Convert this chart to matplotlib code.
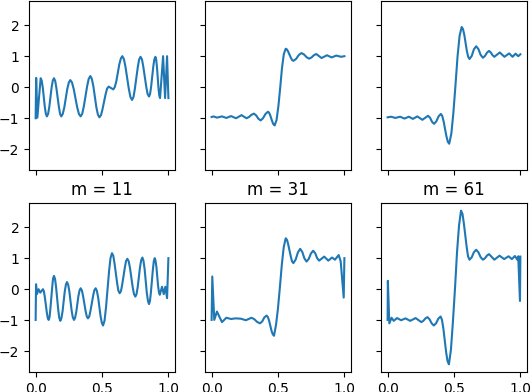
import matplotlib
matplotlib.use("Agg")
import matplotlib.pyplot as plt

titles = ["m = 11", "m = 31", "m = 61"]

# Top row
x_a = [0.0, 0.004, 0.013, 0.025, 0.038,
       0.046, 0.054, 0.0615, 0.069, 0.077, 0.085,
       0.094, 0.103, 0.1115, 0.120, 0.129, 0.138,
       0.147, 0.156, 0.1655, 0.175, 0.184, 0.193,
       0.204, 0.216, 0.227, 0.238, 0.250, 0.261,
       0.274, 0.287, 0.300, 0.313, 0.326, 0.339,
       0.351, 0.363, 0.3755, 0.388, 0.400, 0.412,
       0.423, 0.435, 0.446, 0.457, 0.469, 0.48,
       0.492, 0.503, 0.515, 0.527, 0.538, 0.55,
       0.5675, 0.585,
       0.596, 0.608, 0.619, 0.630, 0.642, 0.653,
       0.665, 0.677, 0.6895, 0.702, 0.714, 0.726,
       0.737, 0.747, 0.758, 0.769, 0.779, 0.79,
       0.801, 0.811, 0.822, 0.833, 0.843, 0.854,
       0.862, 0.870, 0.878, 0.886, 0.894, 0.902,
       0.908, 0.914, 0.9195, 0.925, 0.931, 0.937,
       0.96, 0.975, 0.99, 1.0]
y_a = [-1.0, 0.3, -0.98, -0.35, 0.29,
       0.208, -0.018, -0.325, -0.633, -0.858, -0.94,
       -0.858, -0.633, -0.325, -0.018, 0.208, 0.29,
       0.208, -0.018, -0.325, -0.633, -0.858, -0.94,
       -0.862, -0.648, -0.355, -0.063, 0.152, 0.23,
       0.152, -0.063, -0.355, -0.648, -0.862, -0.94,
       -0.853, -0.615, -0.29, 0.035, 0.273, 0.36,
       0.271, 0.0275, -0.305, -0.6375, -0.881, -0.97,
       -0.904, -0.7225, -0.475, -0.2275, -0.046, 0.02,
       -0.025, -0.07,
       0.002, 0.1975, 0.465, 0.7325, 0.928, 1.0,
       0.906, 0.6475, 0.295, -0.0575, -0.316, -0.41,
       -0.317, -0.0625, 0.285, 0.6325, 0.887, 0.98,
       0.894, 0.66, 0.34, 0.02, -0.214, -0.3,
       -0.214, 0.02, 0.34, 0.66, 0.894, 0.98,
       0.891, 0.6475, 0.315, -0.0175, -0.261, -0.35,
       1.0, -0.35, 1.0, -0.35]

x_b = [0.0, 0.015, 0.04, 0.078, 0.111, 0.146, 0.184, 0.225, 0.263, 0.281, 0.3, 0.318, 0.335, 0.352,
       0.369, 0.387, 0.406, 0.424, 0.4325, 0.441, 0.4495, 0.458, 0.4665, 0.475,
       0.489, 0.503, 0.517, 0.53, 0.544, 0.558,
       0.568, 0.577, 0.587, 0.597, 0.606, 0.616, 0.636, 0.657, 0.677, 0.696, 0.716, 0.735,
       0.753, 0.77, 0.788, 0.828, 0.869, 0.904, 0.939, 0.975, 1.0]
y_b = [-0.96, -0.94, -0.98, -0.94, -0.99, -0.93, -1.0, -0.9, -1.0, -0.96, -0.89, -0.85, -0.905, -1.015,
       -1.07, -1.0, -0.86, -0.79, -0.819, -0.9, -1.01, -1.12, -1.2, -1.23,
       -1.06, -0.61, 0.0, 0.62, 1.07, 1.24,
       1.214, 1.1425, 1.045, 0.9475, 0.876, 0.85, 0.91, 1.04, 1.1, 1.055, 0.965, 0.92,
       0.96, 1.03, 1.07, 0.94, 1.03, 0.96, 1.02, 0.98, 1.0]

x_c = [0.0, 0.026, 0.059, 0.094, 0.127, 0.16, 0.191, 0.224, 0.262, 0.305, 0.32, 0.335, 0.35,
       0.367, 0.384, 0.401, 0.4115, 0.422, 0.4325, 0.443, 0.4535, 0.464,
       0.48, 0.495, 0.511, 0.527, 0.542, 0.558,
       0.568, 0.578, 0.5875, 0.597, 0.607, 0.617, 0.634, 0.65, 0.667, 0.684, 0.701, 0.718,
       0.733, 0.749, 0.764, 0.777, 0.791, 0.804, 0.845, 0.88, 0.916, 0.941, 0.964, 0.984, 1.0]
y_c = [-0.97, -0.95, -0.99, -0.95, -1.01, -0.95, -1.02, -0.94, -1.05, -0.92, -0.985, -1.115, -1.18,
       -1.1, -0.94, -0.86, -0.924, -1.1, -1.34, -1.58, -1.756, -1.82,
       -1.5, -0.85, 0.05, 1.0, 1.65, 1.94,
       1.871, 1.6825, 1.425, 1.1675, 0.979, 0.91, 1.01, 1.22, 1.32, 1.23, 1.04, 0.95,
       1.005, 1.115, 1.17, 1.12, 1.03, 0.98, 1.12, 0.98, 1.09, 0.98, 1.08, 1.0, 1.06]

# Bottom row
x_d = [0.0, 0.003, 0.01, 0.022, 0.035, 0.055,
       0.062, 0.069, 0.0765, 0.084, 0.091, 0.098,
       0.105, 0.111, 0.118, 0.125, 0.131, 0.138,
       0.146, 0.154, 0.162, 0.170, 0.178, 0.186,
       0.194, 0.203, 0.211, 0.219, 0.228, 0.236,
       0.245, 0.254, 0.2625, 0.271, 0.280, 0.289,
       0.297, 0.306, 0.314, 0.322, 0.331, 0.339,
       0.348, 0.357, 0.3665, 0.376, 0.385, 0.394,
       0.404, 0.413, 0.423, 0.433, 0.442, 0.452,
       0.461, 0.471, 0.480, 0.489, 0.499, 0.508,
       0.519, 0.530, 0.5415, 0.553, 0.564, 0.575,
       0.585, 0.594, 0.604, 0.614, 0.623, 0.633,
       0.643, 0.652, 0.662, 0.672, 0.681, 0.691,
       0.701, 0.711, 0.721, 0.731, 0.741, 0.751,
       0.760, 0.769, 0.7775, 0.786, 0.795, 0.804,
       0.812, 0.821, 0.829, 0.837, 0.846, 0.854,
       0.861, 0.868, 0.8755, 0.883, 0.890, 0.897,
       0.903, 0.910, 0.916, 0.922, 0.929, 0.935,
       0.952, 0.965, 0.977, 0.99, 1.0]
y_d = [-0.99, 0.16, -0.16, 0.0, -0.11, 0.0,
       -0.066, -0.2475, -0.495, -0.7425, -0.924, -0.99,
       -0.895, -0.635, -0.28, 0.075, 0.335, 0.43,
       0.333, 0.0675, -0.295, -0.6575, -0.923, -1.02,
       -0.936, -0.7075, -0.395, -0.0825, 0.146, 0.23,
       0.148, -0.075, -0.38, -0.685, -0.908, -0.99,
       -0.922, -0.735, -0.48, -0.225, -0.038, 0.03,
       -0.035, -0.2125, -0.455, -0.6975, -0.875, -0.94,
       -0.875, -0.6975, -0.455, -0.2125, -0.035, 0.03,
       -0.05, -0.27, -0.57, -0.87, -1.09, -1.17,
       -1.014, -0.5875, -0.005, 0.5775, 1.004, 1.16,
       1.074, 0.8375, 0.515, 0.1925, -0.044, -0.13,
       -0.056, 0.1475, 0.425, 0.7025, 0.906, 0.98,
       0.898, 0.675, 0.37, 0.065, -0.158, -0.24,
       -0.156, 0.075, 0.39, 0.705, 0.936, 1.02,
       0.92, 0.645, 0.27, -0.105, -0.38, -0.48,
       -0.381, -0.11, 0.26, 0.63, 0.901, 1.0,
       0.921, 0.705, 0.41, 0.115, -0.101, -0.18,
       0.08, -0.16, 0.08, -0.29, 1.0]

x_e = [0.0, 0.005, 0.02, 0.04, 0.078, 0.111, 0.146, 0.18, 0.22, 0.258, 0.3, 0.321, 0.343, 0.364,
       0.381, 0.397, 0.414, 0.423, 0.433, 0.442, 0.451, 0.461, 0.47,
       0.485, 0.499, 0.514, 0.529, 0.543, 0.558,
       0.568, 0.577, 0.587, 0.597, 0.606, 0.616, 0.633, 0.65, 0.667, 0.683, 0.699, 0.715,
       0.732, 0.748, 0.765, 0.78, 0.795, 0.81, 0.848, 0.879, 0.907, 0.929, 0.957, 0.972, 0.995, 1.0]
y_e = [-0.99, 0.41, -0.99, -0.72, -1.06, -0.92, -0.96, -0.94, -0.95, -1.0, -0.92, -0.965, -1.055, -1.1,
       -1.04, -0.91, -0.85, -0.894, -1.0125, -1.175, -1.3375, -1.456, -1.5,
       -1.15, -0.65, 0.05, 0.8, 1.35, 1.64,
       1.586, 1.44, 1.24, 1.04, 0.894, 0.84, 0.955, 1.185, 1.3, 1.2, 0.99, 0.89,
       0.98, 1.15, 1.24, 1.16, 1.0, 0.92, 1.05, 0.92, 1.02, 0.95, 1.1, 0.9, -0.27, 1.0]

x_f = [0.0, 0.002, 0.013, 0.03, 0.046, 0.071, 0.102, 0.135, 0.17, 0.211, 0.254, 0.269, 0.285, 0.3,
       0.316, 0.332, 0.348, 0.365, 0.382, 0.399, 0.4095, 0.42, 0.4305, 0.441, 0.4515, 0.462,
       0.477, 0.492, 0.508, 0.523, 0.538, 0.553,
       0.564, 0.574, 0.585, 0.596, 0.606, 0.617, 0.634, 0.65, 0.667, 0.684, 0.701, 0.718, 0.733, 0.749,
       0.764, 0.804, 0.843, 0.878, 0.911, 0.936, 0.959, 0.977, 0.984, 0.997, 1.0]
y_f = [-0.99, 0.27, -1.1, -0.92, -1.02, -0.93, -1.0, -0.94, -1.02, -0.93, -1.06, -1.02, -0.94, -0.9,
       -0.97, -1.1, -1.17, -1.1, -0.95, -0.88, -0.983, -1.265, -1.65, -2.035, -2.317, -2.42,
       -1.95, -1.05, 0.05, 1.2, 2.05, 2.53,
       2.424, 2.135, 1.74, 1.345, 1.056, 0.95, 1.03, 1.19, 1.27, 1.19, 1.03, 0.95, 0.995, 1.085,
       1.13, 0.95, 1.08, 0.97, 1.06, 0.97, 1.07, 0.95, 1.06, -0.38, 1.05]

top_x = [x_a, x_b, x_c]
top_y = [y_a, y_b, y_c]
bot_x = [x_d, x_e, x_f]
bot_y = [y_d, y_e, y_f]

fig, axes = plt.subplots(2, 3, sharex=True, sharey=True, figsize=(5.32, 3.92), dpi=100)
for j in range(3):
    axes[0, j].plot(top_x[j], top_y[j])
    axes[1, j].plot(bot_x[j], bot_y[j])
    axes[1, j].set_title(titles[j])

axes[0, 0].set_yticks([-2, -1, 0, 1, 2])
axes[0, 0].set_xticks([0.0, 0.5, 1.0])

fig.subplots_adjust(left=29/532, right=527/532, top=1 - 1/392, bottom=20/392,
                    wspace=0.205, hspace=0.195)
fig.savefig("out.png", dpi=100)
